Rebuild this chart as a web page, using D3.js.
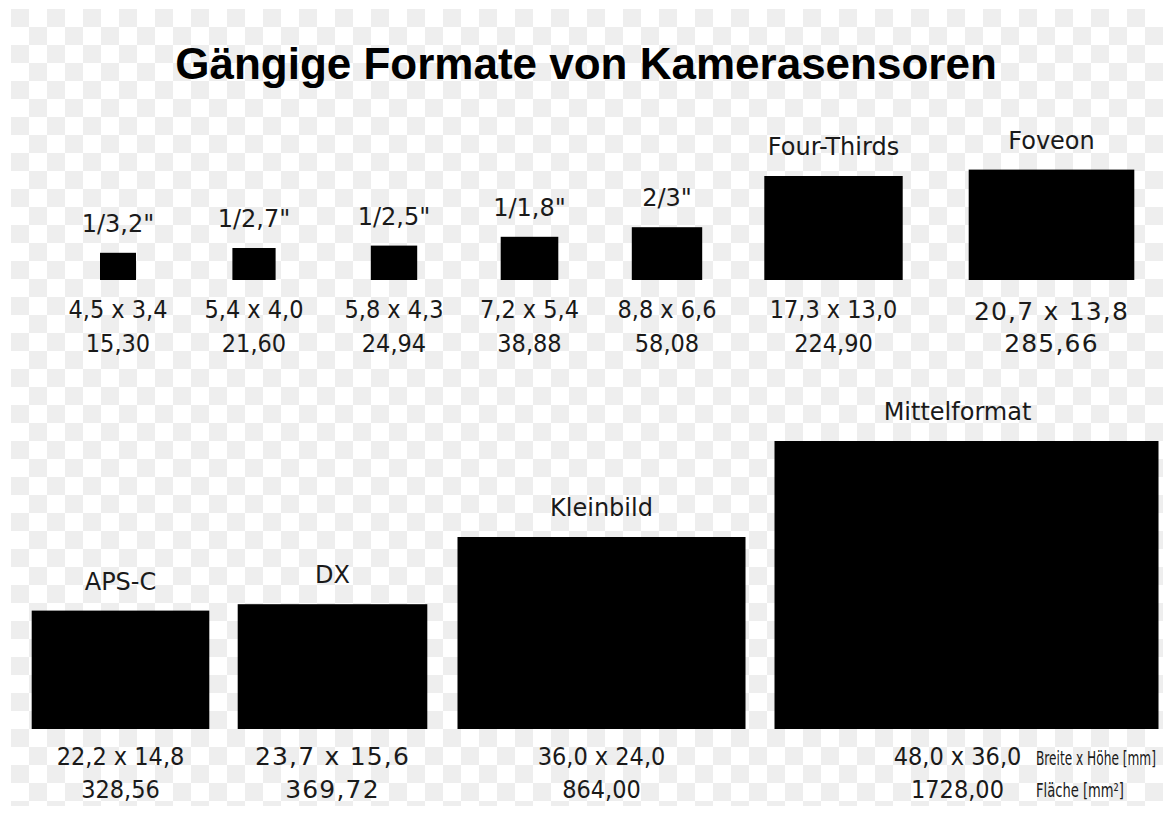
<!DOCTYPE html>
<html>
<head>
<meta charset="utf-8">
<script src="https://cdn.jsdelivr.net/npm/d3@7"></script>
<style>
  body { margin: 0; background: #fff; }
  text { font-family: "DejaVu Sans Condensed", "DejaVu Sans", sans-serif; font-stretch: condensed; fill: #1a1a1a; }
</style>
</head>
<body>
<div id="chart"></div>
<script>
// sensor formats, sizes in mm (Breite x Höhe) and area in mm²
const formats = ["1/3,2\"", "1/2,7\"", "1/2,5\"", "1/1,8\"", "2/3\"", "Four-Thirds", "Foveon", "APS-C", "DX", "Kleinbild", "Mittelformat"];
const widths  = [4.5, 5.4, 5.8, 7.2, 8.8, 17.3, 20.7, 22.2, 23.7, 36.0, 48.0];
const heights = [3.4, 4.0, 4.3, 5.4, 6.6, 13.0, 13.8, 14.8, 15.6, 24.0, 36.0];
const areas   = [15.30, 21.60, 24.94, 38.88, 58.08, 224.90, 285.66, 328.56, 369.72, 864.00, 1728.00];
const rows    = [0, 0, 0, 0, 0, 0, 0, 1, 1, 1, 1];

const title = "Gängige Formate von Kamerasensoren";
const legendDims = "Breite x Höhe [mm]";
const legendArea = "Fläche [mm²]";

// layout
const width = 1176, height = 813;
const slotCenters = [118, 254, 394, 529.5, 667, 833.5, 1051.5, 120.5, 332.5, 601.5, 966.5];
const rowBottom = [280, 729];
const dimBase = [318, 765];
const areaBase = [352, 798];
const textShift = {"Mittelformat": -9};
const wideText = ["Foveon", "DX"];

const de = d3.formatLocale({decimal: ",", thousands: "", grouping: [3], currency: ["", "€"]});
const f1 = de.format(".1f"), f2 = de.format(".2f");

const mm = d3.scaleLinear().domain([0, 48]).range([0, 384]);
const xc = d3.scaleOrdinal().domain(formats).range(slotCenters);

const data = formats.map((name, i) => ({
  name: name, w: widths[i], h: heights[i], area: areas[i], row: rows[i]
}));

const svg = d3.select("#chart").append("svg")
  .attr("width", width)
  .attr("height", height);

// transparency checkerboard behind everything
const pat = svg.append("defs").append("pattern")
  .attr("id", "checker")
  .attr("patternUnits", "userSpaceOnUse")
  .attr("x", 11).attr("y", 9)
  .attr("width", 36).attr("height", 36);
pat.append("rect").attr("width", 36).attr("height", 36).attr("fill", "#ffffff");
pat.append("rect").attr("width", 18).attr("height", 18).attr("fill", "#eeeeee");
pat.append("rect").attr("x", 18).attr("y", 18).attr("width", 18).attr("height", 18).attr("fill", "#eeeeee");

svg.append("rect")
  .attr("x", 11).attr("y", 9)
  .attr("width", 1152).attr("height", 797)
  .attr("fill", "url(#checker)");

svg.append("text")
  .attr("x", 586)
  .attr("y", 79)
  .attr("text-anchor", "middle")
  .style("font-family", "'Liberation Sans', Arial, sans-serif")
  .style("font-stretch", "normal")
  .style("font-weight", "bold")
  .style("font-size", "44px")
  .style("fill", "#000")
  .text(title);

const g = svg.selectAll("g.sensor")
  .data(data)
  .join("g")
  .attr("class", "sensor");

g.append("rect")
  .attr("x", d => xc(d.name) - mm(d.w) / 2)
  .attr("y", d => rowBottom[d.row] - mm(d.h))
  .attr("width", d => mm(d.w))
  .attr("height", d => mm(d.h))
  .attr("fill", "#000");

g.append("text")
  .attr("x", d => xc(d.name) + (textShift[d.name] || 0))
  .attr("y", d => rowBottom[d.row] - mm(d.h) - 21)
  .attr("text-anchor", "middle")
  .style("font-family", "'DejaVu Sans', sans-serif")
  .style("font-stretch", "normal")
  .style("font-size", "24px")
  .text(d => d.name);

function numStyle(sel) {
  sel.style("font-size", "25px")
    .style("font-stretch", d => wideText.includes(d.name) ? "normal" : "condensed")
    .style("font-family", d => wideText.includes(d.name) ? "'DejaVu Sans', sans-serif" : null)
    .style("letter-spacing", d => wideText.includes(d.name) ? "1.2px" : null);
}

g.append("text")
  .attr("x", d => xc(d.name) + (textShift[d.name] || 0))
  .attr("y", d => dimBase[d.row] + (d.name === "Foveon" ? 2 : 0))
  .attr("text-anchor", "middle")
  .call(numStyle)
  .text(d => f1(d.w) + " x " + f1(d.h));

g.append("text")
  .attr("x", d => xc(d.name) + (textShift[d.name] || 0))
  .attr("y", d => areaBase[d.row])
  .attr("text-anchor", "middle")
  .call(numStyle)
  .text(d => f2(d.area));

// unit legend next to Mittelformat, squeezed horizontally like the original
function squeezed(txt, x, y, targetW) {
  const t = svg.append("text")
    .attr("x", 0).attr("y", 0)
    .style("font-size", "19px")
    .text(txt);
  const natural = t.node().getComputedTextLength();
  t.attr("transform", "translate(" + x + "," + y + ") scale(" + (targetW / natural) + ",1)");
}
squeezed(legendDims, 1036, 765, 120);
squeezed(legendArea, 1036, 797, 88);
</script>
</body>
</html>
